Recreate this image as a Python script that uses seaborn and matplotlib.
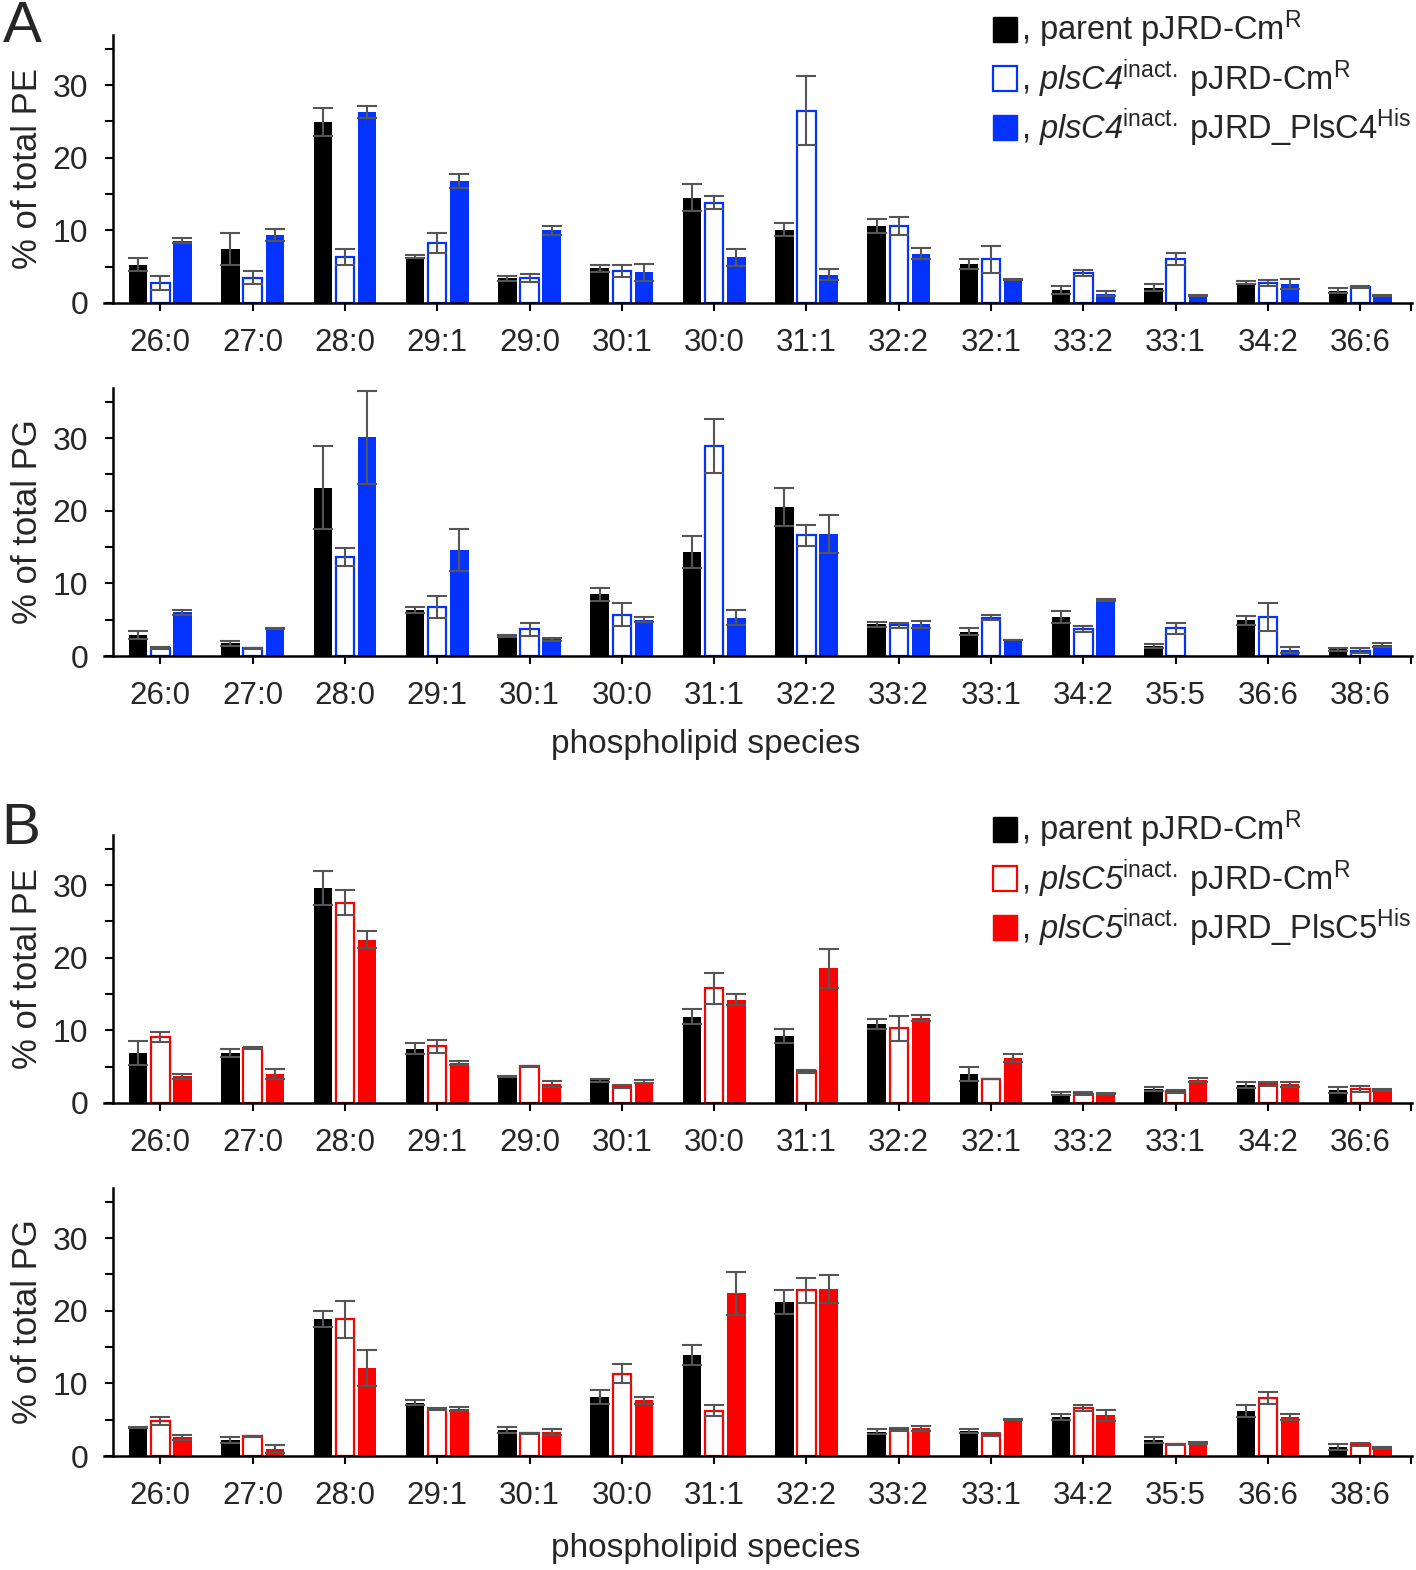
import numpy as np
import pandas as pd
import matplotlib.pyplot as plt
import seaborn as sns
from matplotlib.patches import Patch
from matplotlib.ticker import MultipleLocator

# Species (x categories)
pe_species = ["26:0", "27:0", "28:0", "29:1", "29:0", "30:1", "30:0",
              "31:1", "32:2", "32:1", "33:2", "33:1", "34:2", "36:6"]
pg_species = ["26:0", "27:0", "28:0", "29:1", "30:1", "30:0", "31:1",
              "32:2", "33:2", "33:1", "34:2", "35:5", "36:6", "38:6"]

# Panel A, PE
a_pe_parent = [5.3, 7.4, 24.9, 6.4, 3.4, 4.8, 14.5, 10.1, 10.6, 5.4, 1.8, 2.1, 2.8, 1.7]
a_pe_parent_err = [0.9, 2.2, 1.9, 0.2, 0.35, 0.5, 1.9, 0.85, 0.95, 0.7, 0.5, 0.5, 0.25, 0.35]
a_pe_inact = [2.7, 3.5, 6.4, 8.3, 3.5, 4.4, 13.8, 26.5, 10.6, 6.0, 4.1, 6.1, 2.8, 2.2]
a_pe_inact_err = [0.95, 0.95, 1.1, 1.35, 0.55, 0.87, 0.9, 4.7, 1.2, 1.85, 0.4, 0.85, 0.4, 0.2]
a_pe_comp = [8.6, 9.4, 26.3, 16.8, 10.0, 4.2, 6.3, 3.9, 6.8, 3.25, 1.3, 1.05, 2.6, 1.05]
a_pe_comp_err = [0.35, 0.8, 0.8, 0.95, 0.6, 1.2, 1.2, 0.8, 0.8, 0.1, 0.3, 0.1, 0.65, 0.1]

# Panel A, PG
a_pg_parent = [2.85, 1.75, 23.2, 6.3, 2.75, 8.5, 14.3, 20.5, 4.35, 3.35, 5.4, 1.4, 4.9, 0.9]
a_pg_parent_err = [0.55, 0.35, 5.7, 0.4, 0.1, 0.9, 2.25, 2.65, 0.3, 0.45, 0.85, 0.3, 0.6, 0.25]
a_pg_inact = [1.15, 1.05, 13.6, 6.75, 3.65, 5.7, 28.9, 16.6, 4.2, 5.3, 3.7, 3.8, 5.4, 0.75]
a_pg_inact_err = [0.15, 0.1, 1.25, 1.45, 0.9, 1.6, 3.7, 1.45, 0.3, 0.3, 0.45, 0.8, 1.95, 0.3]
a_pg_comp = [6.0, 3.8, 30.1, 14.6, 2.3, 5.0, 5.3, 16.8, 4.35, 2.2, 7.7, 0.0, 0.85, 1.55]
a_pg_comp_err = [0.35, 0.1, 6.4, 2.9, 0.2, 0.35, 1.0, 2.6, 0.5, 0.05, 0.15, 0.0, 0.4, 0.3]

# Panel B, PE
b_pe_parent = [6.9, 6.9, 29.6, 7.45, 3.65, 3.1, 11.9, 9.2, 10.9, 4.0, 1.25, 1.9, 2.45, 1.8]
b_pe_parent_err = [1.6, 0.55, 2.35, 0.75, 0.1, 0.25, 1.05, 1.0, 0.7, 0.95, 0.2, 0.3, 0.4, 0.4]
b_pe_inact = [9.1, 7.6, 27.6, 7.8, 5.05, 2.3, 15.8, 4.35, 10.3, 3.3, 1.3, 1.6, 2.6, 1.9]
b_pe_inact_err = [0.65, 0.1, 1.75, 0.9, 0.05, 0.2, 2.15, 0.2, 1.7, 0.05, 0.15, 0.25, 0.3, 0.4]
b_pe_comp = [3.65, 4.0, 22.5, 5.5, 2.65, 2.9, 14.2, 18.55, 11.7, 6.15, 1.35, 3.2, 2.55, 1.8]
b_pe_comp_err = [0.4, 0.75, 1.15, 0.3, 0.4, 0.2, 0.75, 2.65, 0.35, 0.55, 0.08, 0.25, 0.3, 0.15]

# Panel B, PG
b_pg_parent = [3.9, 2.2, 18.9, 7.35, 3.55, 8.1, 13.9, 21.2, 3.35, 3.45, 5.4, 2.15, 6.2, 1.25]
b_pg_parent_err = [0.1, 0.35, 1.1, 0.3, 0.4, 1.0, 1.4, 1.65, 0.35, 0.25, 0.45, 0.4, 0.85, 0.4]
b_pg_inact = [4.8, 2.7, 18.8, 6.5, 3.1, 11.35, 6.25, 22.8, 3.6, 2.95, 6.65, 1.6, 7.95, 1.6]
b_pg_inact_err = [0.6, 0.05, 2.6, 0.1, 0.05, 1.25, 0.75, 1.7, 0.2, 0.25, 0.4, 0.08, 0.8, 0.2]
b_pg_comp = [2.55, 0.95, 12.1, 6.5, 3.25, 7.65, 22.4, 23.0, 3.8, 5.05, 5.6, 1.8, 5.4, 1.1]
b_pg_comp_err = [0.4, 0.5, 2.5, 0.3, 0.4, 0.5, 2.95, 1.95, 0.35, 0.1, 0.8, 0.08, 0.4, 0.1]

strains = ["parent", "inact", "comp"]
blue = "#0433FF"
red = "#FF0000"

sns.set_style("white")
plt.rcParams["font.family"] = ["Liberation Sans", "DejaVu Sans"]
plt.rcParams["mathtext.fontset"] = "custom"
plt.rcParams["mathtext.rm"] = "Liberation Sans"
plt.rcParams["mathtext.it"] = "Liberation Sans:italic"
# sf slot used for italic gene names so the digit is italic too
plt.rcParams["mathtext.sf"] = "Liberation Sans:italic"
plt.rcParams["mathtext.bf"] = "Liberation Sans:bold"

fig = plt.figure(figsize=(14.16, 15.70), dpi=100)

left = 104 / 1416
width = (1412 - 104) / 1416
height = 268 / 1570
bottoms = [1 - 303 / 1570, 1 - 656 / 1570, 1 - 1103 / 1570, 1 - 1456 / 1570]


def draw_panel(ax, species, vals, errs, color, ylabel):
    df = pd.DataFrame({
        "species": np.tile(species, 3),
        "strain": np.repeat(strains, len(species)),
        "value": np.concatenate(vals),
    })
    sns.barplot(data=df, x="species", y="value", hue="strain",
                order=species, hue_order=strains,
                palette=["black", "white", color], saturation=1,
                width=0.72, gap=0.17,
                errorbar=None, linewidth=0, legend=False, ax=ax)
    bar_sets = list(ax.containers)
    for k, cont in enumerate(bar_sets):
        xs = np.array([p.get_x() + p.get_width() / 2 for p in cont.patches])
        ys = np.array(vals[k])
        if k == 1:
            for p in cont.patches:
                p.set_edgecolor(color)
                p.set_linewidth(1.6)
        e = np.array(errs[k])
        m = e > 0
        ax.errorbar(xs[m], ys[m], yerr=e[m], fmt="none",
                    ecolor="#555555", elinewidth=1.5, capsize=7, capthick=1.5,
                    zorder=5)
    ax.set_xlim(-0.61, 13.56)
    ax.set_ylim(0, 36.9)
    ax.yaxis.set_major_locator(MultipleLocator(10))
    ax.yaxis.set_minor_locator(MultipleLocator(5))
    ax.set_xticks([13.55], minor=True)
    ax.spines["top"].set_visible(False)
    ax.spines["right"].set_visible(False)
    ax.spines["left"].set_position(("data", -0.51))
    for s in ["left", "bottom"]:
        ax.spines[s].set_linewidth(1.8)
        ax.spines[s].set_color("black")
    ax.tick_params(axis="both", which="both", direction="out", length=6,
                   width=1.5, color="black", labelsize=22.5, pad=12,
                   left=True, bottom=True)
    ax.tick_params(axis="y", labelsize=23)
    ax.set_xlabel("")
    ax.set_ylabel(ylabel, fontsize=25)
    ax.yaxis.set_label_coords(-0.046, 0.5)
    ax.grid(False)
    ax.set_facecolor("white")


def add_legend(color, gene, protein, y_top):
    handles = [Patch(facecolor="black", edgecolor="black"),
               Patch(facecolor="white", edgecolor=color, linewidth=1.6),
               Patch(facecolor=color, edgecolor=color)]
    labels = [r", parent pJRD-Cm$^{\mathrm{R}}$",
              r", $\mathsf{" + gene + r"}^{\mathrm{inact.}}\;$pJRD-Cm$^{\mathrm{R}}$",
              r", $\mathsf{" + gene + r"}^{\mathrm{inact.}}\;$pJRD_" + protein + r"$^{\mathrm{His}}$"]
    fig.legend(handles, labels, loc="upper left",
               bbox_to_anchor=(993 / 1416, 1 - y_top / 1570),
               frameon=False, fontsize=23.5, handlelength=0.75, handleheight=0.8,
               handletextpad=0.1, labelspacing=0.2, borderpad=0,
               borderaxespad=0)


panels = [
    (pe_species, [a_pe_parent, a_pe_inact, a_pe_comp],
     [a_pe_parent_err, a_pe_inact_err, a_pe_comp_err], blue, "% of total PE"),
    (pg_species, [a_pg_parent, a_pg_inact, a_pg_comp],
     [a_pg_parent_err, a_pg_inact_err, a_pg_comp_err], blue, "% of total PG"),
    (pe_species, [b_pe_parent, b_pe_inact, b_pe_comp],
     [b_pe_parent_err, b_pe_inact_err, b_pe_comp_err], red, "% of total PE"),
    (pg_species, [b_pg_parent, b_pg_inact, b_pg_comp],
     [b_pg_parent_err, b_pg_inact_err, b_pg_comp_err], red, "% of total PG"),
]

for i, (sp, vals, errs, col, ylab) in enumerate(panels):
    ax = fig.add_axes([left, bottoms[i], width, height])
    draw_panel(ax, sp, vals, errs, col, ylab)

add_legend(blue, "plsC4", "PlsC4", 9)
add_legend(red, "plsC5", "PlsC5", 809)

fig.text(706 / 1416, 1 - 745 / 1570, "phospholipid species", fontsize=24,
         ha="center", va="center")
fig.text(706 / 1416, 1 - 1548 / 1570, "phospholipid species", fontsize=24,
         ha="center", va="center")
fig.text(3 / 1416, 1 - 0 / 1570, "A", fontsize=42, ha="left", va="top")
fig.text(1 / 1416, 1 - 802 / 1570, "B", fontsize=42, ha="left", va="top")

plt.savefig("out.png", dpi=100, facecolor="white")
